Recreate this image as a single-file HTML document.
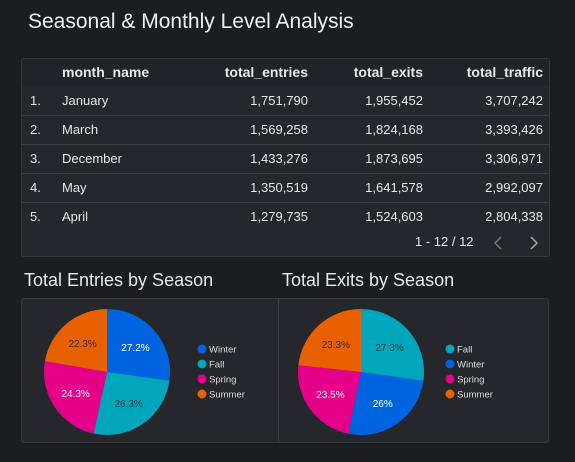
<!DOCTYPE html>
<html><head><meta charset="utf-8"><style>
body{margin:0;width:575px;height:462px;background:#1c1d21;font-family:"Liberation Sans","DejaVu Sans",sans-serif;color:#e8e8e8;position:relative;overflow:hidden}
.abs{position:absolute}
#tbl{left:21px;top:58px;width:529px;height:199px;background:#25272d;border:1px solid #35373d;border-radius:3px;box-sizing:border-box}
.row{position:absolute;left:0;width:527px;height:29px;font-size:13px;line-height:29px;border-bottom:1px solid #3a3c42}
.row span{position:absolute}
.hdr{font-weight:bold;background:#202328;height:27px;line-height:27px;font-size:14px;border-bottom:none}
.c0{left:8px}.c1{left:40px}.c2{right:241px}.c3{right:126px}.c4{right:6px}
#pies{left:21px;top:298px;width:528px;height:145px;background:#25272d;border:1px solid #35373d;border-radius:3px;box-sizing:border-box}
</style></head><body>
<div class="abs" style="left:28px;top:10px;font-size:21px;color:#f0f0f0">Seasonal &amp; Monthly Level Analysis</div>
<div id="tbl" class="abs">
 <div class="row hdr" style="top:0"><span class="c1">month_name</span><span class="c2">total_entries</span><span class="c3">total_exits</span><span class="c4">total_traffic</span></div>
 <div class="row" style="top:27px"><span class="c0">1.</span><span class="c1">January</span><span class="c2">1,751,790</span><span class="c3">1,955,452</span><span class="c4">3,707,242</span></div>
 <div class="row" style="top:56px"><span class="c0">2.</span><span class="c1">March</span><span class="c2">1,569,258</span><span class="c3">1,824,168</span><span class="c4">3,393,426</span></div>
 <div class="row" style="top:85px"><span class="c0">3.</span><span class="c1">December</span><span class="c2">1,433,276</span><span class="c3">1,873,695</span><span class="c4">3,306,971</span></div>
 <div class="row" style="top:114px"><span class="c0">4.</span><span class="c1">May</span><span class="c2">1,350,519</span><span class="c3">1,641,578</span><span class="c4">2,992,097</span></div>
 <div class="row" style="top:143px;border-bottom:none"><span class="c0">5.</span><span class="c1">April</span><span class="c2">1,279,735</span><span class="c3">1,524,603</span><span class="c4">2,804,338</span></div>
 <div class="abs" style="left:393px;top:175px;font-size:13px">1 - 12 / 12</div>
 <svg class="abs" style="left:470px;top:176px" width="12" height="16"><path d="M9,2 L3,8 L9,14" stroke="#777" stroke-width="1.5" fill="none"/></svg>
 <svg class="abs" style="left:506px;top:176px" width="12" height="16"><path d="M3,2 L9,8 L3,14" stroke="#aaa" stroke-width="1.5" fill="none"/></svg>
</div>
<div class="abs" style="left:24px;top:270px;font-size:18px">Total Entries by Season</div>
<div class="abs" style="left:282px;top:270px;font-size:18px">Total Exits by Season</div>
<div id="pies" class="abs"></div>
<div class="abs" style="left:278px;top:299px;width:1px;height:143px;background:#3a3c42"></div>
<svg class="abs" style="left:0;top:0" width="575" height="462" id="svg"></svg>
<script>
const entrySeasons=["Winter","Fall","Spring","Summer"];
const entryValues=[27.2,26.3,24.3,22.3];
const exitSeasons=["Fall","Winter","Spring","Summer"];
const exitValues=[27.3,26,23.5,23.3];
const colors={Winter:"#0064e1",Fall:"#00a6bb",Spring:"#e5008a",Summer:"#e86000"};
const labelColors={Winter:"#fff",Fall:"#1d3a40",Spring:"#fff",Summer:"#3a2a20"};
const NS="http://www.w3.org/2000/svg";
const svg=document.getElementById('svg');
function pie(cx,cy,r,cats,vals,lx,nm){
  const tot=vals.reduce((a,b)=>a+b,0);let a=0;
  cats.forEach((c,i)=>{
    const a0=a/tot*2*Math.PI,a1=(a+vals[i])/tot*2*Math.PI;a+=vals[i];
    const p=(t,rr)=>[cx+rr*Math.sin(t),cy-rr*Math.cos(t)];
    const [x0,y0]=p(a0,r),[x1,y1]=p(a1,r);
    const path=document.createElementNS(NS,'path');
    path.setAttribute('d',`M${cx},${cy}L${x0},${y0}A${r},${r} 0 ${a1-a0>Math.PI?1:0} 1 ${x1},${y1}Z`);
    path.setAttribute('fill',colors[c]);
    
    
    svg.appendChild(path);
    const [tx,ty]=p((a0+a1)/2,r*0.6);
    const t=document.createElementNS(NS,'text');
    t.setAttribute('x',tx);t.setAttribute('y',ty+4);t.setAttribute('text-anchor','middle');
    t.setAttribute('font-size','10');t.setAttribute('fill',labelColors[c]);
    
    
    t.textContent=(Math.round(vals[i]*10)/10)+'%';svg.appendChild(t);
    const ly=349+i*15;
    const d=document.createElementNS(NS,'circle');
    d.setAttribute('cx',lx);d.setAttribute('cy',ly);d.setAttribute('r',4.5);d.setAttribute('fill',colors[c]);
    
    
    svg.appendChild(d);
    const lt=document.createElementNS(NS,'text');
    lt.setAttribute('x',lx+7);lt.setAttribute('y',ly+3.5);lt.setAttribute('font-size','9.5');lt.setAttribute('fill','#ddd');
    
    
    lt.textContent=c;svg.appendChild(lt);
  });
}
pie(107,372,63,entrySeasons,entryValues,202,'entries');
pie(361,372,63,exitSeasons,exitValues,450,'exits');
</script>
</body></html>
